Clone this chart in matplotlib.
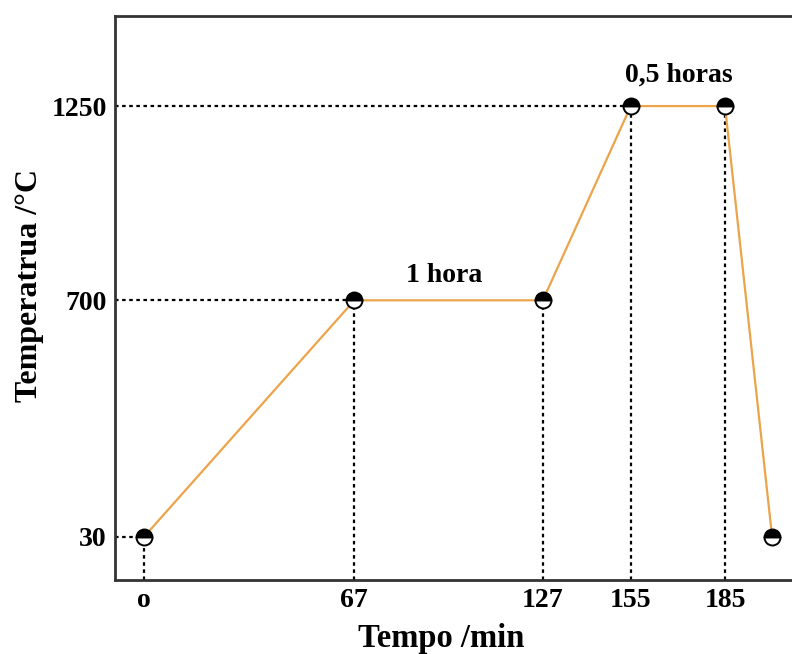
import matplotlib.pyplot as plt

plt.rcParams["font.family"] = ["Liberation Serif", "DejaVu Serif"]
plt.rcParams["font.weight"] = "bold"

# Heating schedule
tempo = [0, 67, 127, 155, 185, 200]
temperatura = [30, 700, 700, 1250, 1250, 30]

xticks = [0, 67, 127, 155, 185]
xtick_labels = ["o", "67", "127", "155", "185"]
yticks = [30, 700, 1250]
ytick_labels = ["30", "700", "1250"]

fig = plt.figure(figsize=(7.92, 6.54), dpi=100)
ax = fig.add_axes([0.1452, 0.1131, 0.865, 0.8624])

# dotted guide lines
for t, T in zip(tempo[:-1], temperatura[:-1]):
    ax.plot([t, t], [-92, T], color="black", linestyle=(0, (1.6, 1.6)), linewidth=1.6, zorder=1)
for t, T in zip([0, 67, 155], [30, 700, 1250]):
    ax.plot([-9.2, t], [T, T], color="black", linestyle=(0, (1.6, 1.6)), linewidth=1.6, zorder=1)

ax.plot(tempo, temperatura, color="#eba44a", linewidth=1.6, zorder=2)
ax.plot(tempo, temperatura, linestyle="none", marker="o", markersize=11.5,
        fillstyle="top", markerfacecolor="black", markerfacecoloralt="white",
        markeredgecolor="black", markeredgewidth=1.4, zorder=3)

ax.text(95.5, 771, "1 hora", ha="center", va="center", fontsize=20, fontweight="bold")
ax.text(170.4, 1337, "0,5 horas", ha="center", va="center", fontsize=20, fontweight="bold")

ax.set_xlim(-9.2, 208.9)
ax.set_ylim(-92, 1505)
ax.set_xticks(xticks)
ax.set_xticklabels(xtick_labels)
ax.set_yticks(yticks)
ax.set_yticklabels(ytick_labels)
ax.tick_params(length=0, labelsize=20, pad=6)
for lab in ax.get_xticklabels() + ax.get_yticklabels():
    lab.set_fontweight("bold")

for s in ax.spines.values():
    s.set_linewidth(2.0)
    s.set_color("#333333")
ax.spines["right"].set_visible(False)

fig.text(441 / 792, 1 - 638 / 654, "Tempo /min", ha="center", va="center",
         fontsize=23.5, fontweight="bold")
fig.text(30 / 792, 1 - 286 / 654, "Temperatrua /°C", ha="center", va="center",
         rotation=90, fontsize=23, fontweight="bold")

fig.savefig("out.png", dpi=100)
